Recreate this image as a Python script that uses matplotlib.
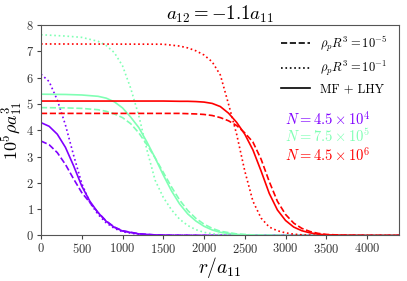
import matplotlib
matplotlib.use("Agg")
import matplotlib.pyplot as plt
from matplotlib.lines import Line2D

plt.rcParams['font.family'] = 'serif'
plt.rcParams['font.serif'] = ['cmr10']
plt.rcParams['mathtext.fontset'] = 'cm'
plt.rcParams['axes.formatter.use_mathtext'] = True

# radial profiles, r in units of a_11
r_purple = [0, 100, 200, 300, 400, 500, 600, 700, 800, 900, 1000, 1200, 1400, 1600, 2000, 4500]
purple_solid = [4.29, 4.15, 3.85, 3.35, 2.65, 1.88, 1.3, 0.87, 0.54, 0.31, 0.17, 0.06, 0.02, 0.007, 0.0, 0.0]
purple_dash = [3.59, 3.45, 3.15, 2.7, 2.15, 1.63, 1.25, 0.87, 0.55, 0.32, 0.18, 0.065, 0.022, 0.008, 0.0, 0.0]
purple_dot = [6.13, 5.85, 5.15, 4.2, 3.05, 1.98, 1.25, 0.8, 0.48, 0.27, 0.14, 0.04, 0.012, 0.003, 0.0, 0.0]

r_green = [0, 300, 500, 700, 800, 900, 1000, 1100, 1200, 1300, 1400, 1500, 1600, 1700,
           1800, 1900, 2000, 2100, 2200, 2400, 2600, 3000, 4500]
green_solid = [5.37, 5.36, 5.34, 5.29, 5.22, 5.08, 4.85, 4.5, 4.1, 3.55, 2.95, 2.3, 1.7, 1.2,
               0.82, 0.55, 0.35, 0.21, 0.12, 0.04, 0.01, 0.0, 0.0]
green_dash = [4.86, 4.85, 4.83, 4.78, 4.72, 4.62, 4.48, 4.25, 3.9, 3.45, 2.95, 2.4, 1.85, 1.35,
              0.95, 0.65, 0.43, 0.27, 0.16, 0.06, 0.02, 0.0, 0.0]
green_dot = [7.63, 7.58, 7.53, 7.38, 7.22, 6.95, 6.45, 5.6, 4.55, 3.25, 2.1, 1.45, 0.98, 0.62,
             0.38, 0.22, 0.12, 0.065, 0.035, 0.01, 0.002, 0.0, 0.0]

r_red = [0, 1500, 1700, 1800, 1900, 2000, 2100, 2200, 2300, 2400, 2500, 2600, 2700, 2800,
         2900, 3000, 3100, 3200, 3300, 3400, 3500, 3700, 4000, 4500]
red_solid = [5.11, 5.11, 5.1, 5.1, 5.09, 5.07, 5.02, 4.9, 4.65, 4.3, 3.85, 3.25, 2.45, 1.6,
             0.97, 0.57, 0.32, 0.18, 0.1, 0.05, 0.025, 0.006, 0.0, 0.0]
red_dash = [4.64, 4.64, 4.64, 4.63, 4.62, 4.6, 4.56, 4.48, 4.36, 4.18, 3.9, 3.55, 2.9, 2.05,
            1.3, 0.8, 0.47, 0.27, 0.15, 0.08, 0.04, 0.01, 0.0, 0.0]
red_dot = [7.28, 7.27, 7.2, 7.13, 7.02, 6.86, 6.6, 6.1, 5.0, 3.85, 2.45, 1.3, 0.66, 0.32,
           0.18, 0.1, 0.05, 0.025, 0.012, 0.005, 0.002, 0.0, 0.0, 0.0]

labels_N = [r'$N = 4.5\times 10^4$', r'$N = 7.5\times 10^5$', r'$N = 4.5\times 10^6$']
colors = ['#8000ff', '#80ffb4', '#ff0000']

groups = [
    (r_purple, purple_solid, purple_dash, purple_dot),
    (r_green, green_solid, green_dash, green_dot),
    (r_red, red_solid, red_dash, red_dot),
]

fig = plt.figure(figsize=(4.07, 2.81), dpi=100)
ax = fig.add_axes([0.1007, 0.162, 0.8793, 0.749])

lw = 1.2
for (r, s, d, o), c in zip(groups, colors):
    ax.plot(r, d, color=c, ls='--', lw=lw)
    ax.plot(r, o, color=c, ls=':', lw=lw)
    ax.plot(r, s, color=c, ls='-', lw=lw)

ax.set_xlim(0, 4390)
ax.set_ylim(0, 8)
ax.set_xticks([0, 500, 1000, 1500, 2000, 2500, 3000, 3500, 4000])
ax.set_yticks(range(0, 9))
ax.tick_params(labelsize=9, length=3, pad=2, colors='#444444', labelcolor='#333333')
for sp in ax.spines.values():
    sp.set_color('#555555')

ax.set_title(r'$a_{12} = -1.1 a_{11}$', fontsize=13.5, pad=4)
ax.set_xlabel(r'$r/a_{11}$', fontsize=14, labelpad=-1)
ax.set_ylabel(r'$10^5\rho a_{11}^3$', fontsize=13, labelpad=1)

handles = [Line2D([], [], color='k', ls='--', lw=lw),
           Line2D([], [], color='k', ls=':', lw=lw),
           Line2D([], [], color='k', ls='-', lw=lw)]
leg_labels = [r'$\rho_p R^3 = 10^{-5}$', r'$\rho_p R^3 = 10^{-1}$', 'MF + LHY']
ax.legend(handles, leg_labels, loc='upper right', frameon=False, fontsize=9,
          handlelength=2.3, labelspacing=0.4, bbox_to_anchor=(1.0, 1.01))

for i, (lab, c) in enumerate(zip(labels_N, colors)):
    ax.text(0.683, 0.556 - i * 0.086, lab, color=c, fontsize=10.5,
            transform=ax.transAxes, va='center')

fig.savefig('out.png', dpi=100)
